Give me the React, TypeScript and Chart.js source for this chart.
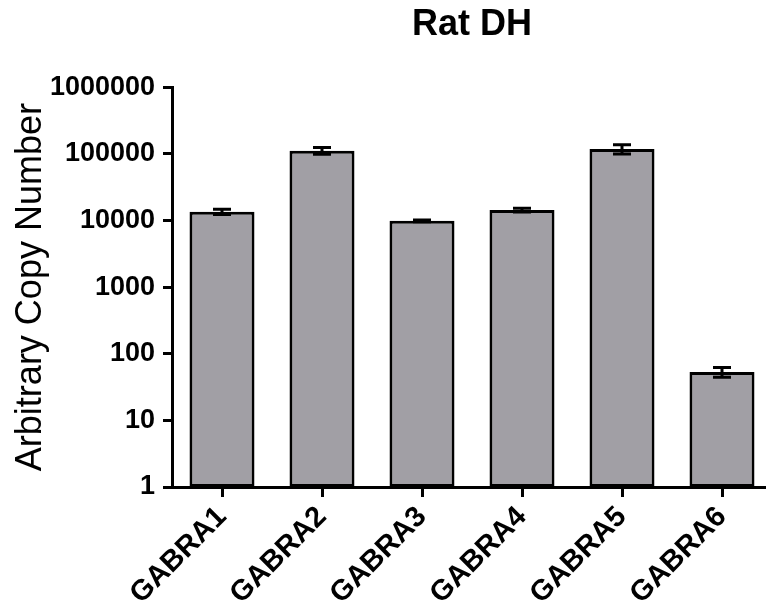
import React, { useEffect, useRef } from "react";
import { Chart, registerables } from "chart.js";

Chart.register(...registerables);

const title = "Rat DH";
const yAxisTitle = "Arbitrary Copy Number";
const categories = ["GABRA1", "GABRA2", "GABRA3", "GABRA4", "GABRA5", "GABRA6"];
const copyNumbers = [13500, 111500, 9890, 14300, 118300, 53.2];
const semValues = [1200, 13000, 300, 900, 19000, 9];
const yTickValues = [1, 10, 100, 1000, 10000, 100000, 1000000];

const FONT = "'Liberation Sans', Arial, Helvetica, sans-serif";

const errorBarPlugin = {
  id: "errorBars",
  afterDatasetsDraw(chart: any) {
    const meta = chart.getDatasetMeta(0);
    const yScale = chart.scales.y;
    const ctx = chart.ctx;
    ctx.save();
    ctx.strokeStyle = "#000";
    ctx.lineWidth = 3;
    meta.data.forEach((bar: any, i: number) => {
      const v = copyNumbers[i];
      const e = semValues[i];
      const yTop = yScale.getPixelForValue(v + e);
      const yBot = yScale.getPixelForValue(Math.max(v - e, 1e-9));
      const x = bar.x;
      const half = 9;
      ctx.beginPath();
      ctx.moveTo(x, yTop);
      ctx.lineTo(x, yBot);
      ctx.moveTo(x - half, yTop);
      ctx.lineTo(x + half, yTop);
      ctx.moveTo(x - half, yBot);
      ctx.lineTo(x + half, yBot);
      ctx.stroke();
    });
    ctx.restore();
  },
};

export default function App() {
  const ref = useRef<HTMLCanvasElement | null>(null);
  useEffect(() => {
    if (!ref.current) return;
    const chart = new Chart(ref.current, {
      type: "bar",
      data: {
        labels: categories,
        datasets: [
          {
            data: copyNumbers,
            backgroundColor: "#a19fa5",
            borderColor: "#000",
            borderWidth: 3,
            borderSkipped: false,
            barPercentage: 0.65,
            categoryPercentage: 1,
          },
        ],
      },
      plugins: [errorBarPlugin],
      options: {
        responsive: false,
        animation: false,
        devicePixelRatio: 1,
        layout: { padding: { left: 0, right: 8, top: 0, bottom: 0 } },
        plugins: {
          legend: { display: false },
          tooltip: { enabled: false },
          title: {
            display: true,
            fullSize: false,
            text: title,
            color: "#000",
            font: { family: FONT, size: 36, weight: "bold", lineHeight: 1.2 },
            padding: { top: 3, bottom: 41 },
          },
        },
        scales: {
          x: {
            type: "category",
            offset: true,
            grid: {
              display: true,
              offset: false,
              drawOnChartArea: false,
              drawTicks: true,
              tickLength: 10,
              tickWidth: 3,
              tickColor: "#000",
            },
            border: { display: true, color: "#000", width: 3 },
            ticks: {
              color: "#000",
              font: { family: FONT, size: 29, weight: "bold" },
              minRotation: 45,
              maxRotation: 45,
              padding: 3,
              autoSkip: false,
            },
            afterFit: (scale: any) => {
              scale.height = 123;
            },
          },
          y: {
            type: "logarithmic",
            min: 1,
            max: 1000000,
            grid: {
              display: true,
              drawOnChartArea: false,
              drawTicks: true,
              tickLength: 9,
              tickWidth: 3,
              tickColor: "#000",
            },
            border: { display: true, color: "#000", width: 3 },
            afterBuildTicks: (scale: any) => {
              scale.ticks = yTickValues.map((v) => ({ value: v }));
            },
            ticks: {
              color: "#000",
              font: { family: FONT, size: 27, weight: "bold" },
              padding: 8,
              autoSkip: false,
              callback: (value: any) => String(value),
            },
            title: {
              display: true,
              text: yAxisTitle,
              color: "#000",
              font: { family: FONT, size: 36, weight: "normal", lineHeight: 1.2 },
              padding: { top: 9, bottom: 0 },
            },
            afterFit: (scale: any) => {
              scale.width = 172;
            },
          },
        },
      },
    });
    return () => chart.destroy();
  }, []);
  return (
    <div
      style={{
        position: "fixed",
        left: 0,
        top: 0,
        width: 766,
        height: 610,
        overflow: "hidden",
        background: "#fff",
      }}
    >
      <canvas ref={ref} width={780} height={610} style={{ width: 780, height: 610, display: "block" }} />
    </div>
  );
}
